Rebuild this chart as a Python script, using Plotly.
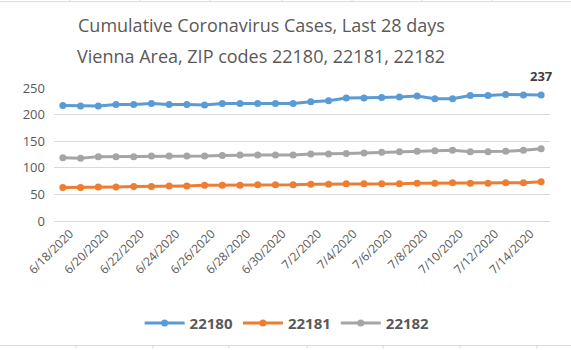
import plotly.graph_objects as go

# Daily dates over the 28-day window
dates = [
    "6/18/2020", "6/19/2020", "6/20/2020", "6/21/2020", "6/22/2020", "6/23/2020", "6/24/2020",
    "6/25/2020", "6/26/2020", "6/27/2020", "6/28/2020", "6/29/2020", "6/30/2020", "7/1/2020",
    "7/2/2020", "7/3/2020", "7/4/2020", "7/5/2020", "7/6/2020", "7/7/2020", "7/8/2020",
    "7/9/2020", "7/10/2020", "7/11/2020", "7/12/2020", "7/13/2020", "7/14/2020", "7/15/2020",
]

# Cumulative cases per ZIP code
zip_22180 = [217, 216, 216, 219, 219, 221, 219, 219, 218, 221, 221, 221, 221, 221,
             224, 226, 231, 231, 232, 233, 235, 230, 230, 236, 236, 238, 237, 237]
zip_22181 = [63, 63, 64, 64, 65, 65, 66, 66, 67, 67, 67, 68, 68, 68,
             69, 69, 70, 70, 70, 70, 71, 71, 72, 71, 71, 72, 72, 74]
zip_22182 = [119, 118, 121, 121, 121, 122, 122, 122, 122, 123, 124, 124, 124, 124,
             126, 126, 127, 128, 129, 130, 131, 132, 133, 130, 130, 131, 133, 136]

series = [("22180", zip_22180, "#5B9BD5"),
          ("22181", zip_22181, "#ED7D31"),
          ("22182", zip_22182, "#A5A5A5")]

title_lines = ["Cumulative Coronavirus Cases, Last 28 days",
               "Vienna Area, ZIP codes 22180, 22181, 22182"]

tick_labels = dates[::2]
y_ticks = [0, 50, 100, 150, 200, 250]

FONT = "Open Sans, Liberation Sans, sans-serif"
TEXT = "#595959"

fig = go.Figure()
for name, vals, color in series:
    fig.add_trace(go.Scatter(
        x=list(range(len(dates))), y=vals, name=name, mode="lines+markers",
        line=dict(color=color, width=3),
        marker=dict(color=color, size=7),
    ))

# Value label on the last point of the first series
fig.add_annotation(
    x=len(dates) - 1, y=zip_22180[-1], text="<b>%d</b>" % zip_22180[-1],
    showarrow=False, yshift=19, font=dict(family=FONT, size=13, color="#404040"),
)

# Two-line chart title
for text, ypx in zip(title_lines, [25, 56]):
    fig.add_annotation(
        xref="paper", yref="paper", x=(261 - 54) / 496, y=(222 - ypx) / 134,
        xanchor="center", yanchor="middle", showarrow=False, text=text,
        font=dict(family=FONT, size=18, color=TEXT),
    )

# Spreadsheet cell borders around the chart
grid_color = "#D9D9D9"
shapes = [
    dict(type="line", xref="paper", yref="paper", x0=-0.2, x1=1.1, y0=1.649, y1=1.649,
         line=dict(color=grid_color, width=1)),
    dict(type="line", xref="paper", yref="paper", x0=-0.2, x1=1.1, y0=-0.937, y1=-0.937,
         line=dict(color=grid_color, width=1)),
]
for px in [70, 140, 210, 282, 352, 422, 492]:
    xp = (px - 54) / 496
    shapes.append(dict(type="line", xref="paper", yref="paper", x0=xp, x1=xp,
                       y0=1.649, y1=1.67, line=dict(color=grid_color, width=1)))
for px in [76, 153, 229, 307, 383, 460, 537]:
    xp = (px - 54) / 496
    shapes.append(dict(type="line", xref="paper", yref="paper", x0=xp, x1=xp,
                       y0=-0.937, y1=-0.96, line=dict(color=grid_color, width=1)))

fig.update_layout(
    width=571, height=350,
    margin=dict(l=54, r=21, t=88, b=128),
    paper_bgcolor="white", plot_bgcolor="white",
    xaxis=dict(
        range=[-0.5, len(dates) - 0.5],
        tickmode="array",
        tickvals=list(range(0, len(dates), 2)),
        ticktext=tick_labels,
        tickangle=-45,
        ticklabelshift=7,
        showgrid=False, zeroline=False,
        showline=True, linecolor="#D9D9D9", linewidth=1,
        ticks="", tickfont=dict(family=FONT, size=12, color=TEXT),
    ),
    yaxis=dict(
        range=[0, 250], tickvals=y_ticks,
        showgrid=True, gridcolor="#D9D9D9", gridwidth=1,
        zeroline=False, showline=False, ticks="",
        ticklabelstandoff=8,
        tickfont=dict(family=FONT, size=13, color=TEXT),
    ),
    legend=dict(
        orientation="h", x=0.47, xanchor="center", y=-0.755, yanchor="middle",
        font=dict(family=FONT, size=15, color=TEXT, weight="bold"),
        itemwidth=40,
    ),
    shapes=shapes,
    showlegend=True,
)

fig.write_html("out.html")
